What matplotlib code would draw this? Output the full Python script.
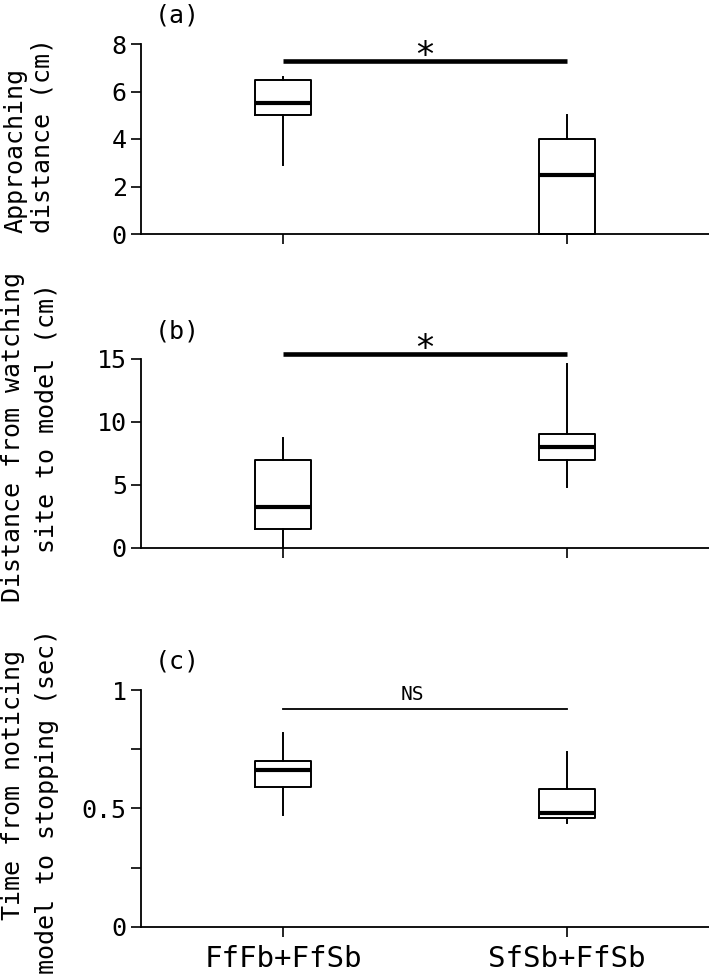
import matplotlib
matplotlib.use("Agg")
import matplotlib.pyplot as plt

plt.rcParams['font.family'] = ['DejaVu Sans Mono', 'DejaVu Sans']

W, H = 709, 975

groups = ["FfFb+FfSb", "SfSb+FfSb"]
positions = [0.5, 1.5]

# (a) approaching distance (cm)
a_whislo = [2.9, 0.0]
a_q1 = [5.0, 0.0]
a_med = [5.5, 2.5]
a_q3 = [6.5, 4.0]
a_whishi = [6.6, 5.0]

# (b) distance from watching site to model (cm)
b_whislo = [0.0, 4.8]
b_q1 = [1.5, 7.0]
b_med = [3.2, 8.0]
b_q3 = [7.0, 9.0]
b_whishi = [8.7, 14.6]

# (c) time from noticing model to stopping (sec)
c_whislo = [0.47, 0.44]
c_q1 = [0.59, 0.46]
c_med = [0.66, 0.48]
c_q3 = [0.70, 0.58]
c_whishi = [0.82, 0.74]

a_yticks = [0, 2, 4, 6, 8]
b_yticks = [0, 5, 10, 15]
c_yticks = [0, 0.25, 0.5, 0.75, 1]
c_yticklabels = ["0", "", "0.5", "", "1"]

sig_y = [7.3, 15.4, 0.92]
sig_text = ["*", "*", "NS"]
panel_tags = ["(a)", "(b)", "(c)"]


def px_rect(top, bottom):
    return [141 / W, 1 - bottom / H, (W - 141) / W, (bottom - top) / H]


def draw_box(ax, lo, q1, med, q3, hi):
    stats = []
    for i in range(len(med)):
        stats.append(dict(whislo=lo[i], q1=q1[i], med=med[i], q3=q3[i], whishi=hi[i]))
    arts = ax.bxp(stats, positions=positions, widths=0.2, showfliers=False,
                  showcaps=False, manage_ticks=False,
                  boxprops=dict(color='black', linewidth=1.4),
                  medianprops=dict(color='black', linewidth=3.0),
                  whiskerprops=dict(color='black', linewidth=1.4))
    for k in arts:
        for a in arts[k]:
            a.set_clip_on(False)


def style(ax, ylim, yticks, yticklabels=None):
    ax.set_xlim(0, 2)
    ax.set_ylim(*ylim)
    for s in ['top', 'right']:
        ax.spines[s].set_visible(False)
    for s in ['left', 'bottom']:
        ax.spines[s].set_linewidth(1.3)
    ax.set_yticks(yticks)
    if yticklabels is not None:
        ax.set_yticklabels(yticklabels)
    ax.set_xticks(positions)
    ax.tick_params(direction='out', length=7.2, width=1.2, labelsize=18, pad=3)
    ax.tick_params(axis='x', pad=6, labelsize=21)


fig = plt.figure(figsize=(W / 100, H / 100), dpi=100)

ax_a = fig.add_axes(px_rect(44, 234))
draw_box(ax_a, a_whislo, a_q1, a_med, a_q3, a_whishi)
style(ax_a, (0, 8), a_yticks)
ax_a.set_xticklabels([])

ax_b = fig.add_axes(px_rect(358.7, 547.7))
draw_box(ax_b, b_whislo, b_q1, b_med, b_q3, b_whishi)
style(ax_b, (0, 15), b_yticks)
ax_b.set_xticklabels([])

ax_c = fig.add_axes(px_rect(690, 926.7))
draw_box(ax_c, c_whislo, c_q1, c_med, c_q3, c_whishi)
style(ax_c, (0, 1), c_yticks, c_yticklabels)
ax_c.set_xticklabels(groups)

# significance bars
for ax, y, t in zip([ax_a, ax_b], sig_y[:2], sig_text[:2]):
    ax.plot(positions, [y, y], color='black', lw=3.3, solid_capstyle='butt', clip_on=False)
    ax.annotate(t, (1.0, y), xytext=(0, -4), textcoords='offset points',
                ha='center', va='baseline', fontsize=25, annotation_clip=False)
ax_c.plot(positions, [sig_y[2], sig_y[2]], color='black', lw=1.3, clip_on=False)
ax_c.text(0.954, 0.983, sig_text[2], ha='center', va='center', fontsize=14)

# panel tags
for tag, y in zip(panel_tags, [16, 332, 661]):
    fig.text(177 / W, 1 - y / H, tag, ha='center', va='center', fontsize=18)

# y labels, two lines each
fig.text(16 / W, 1 - 233 / H, "Approaching", rotation=90, ha='center', va='bottom', fontsize=18)
fig.text(43 / W, 1 - 233 / H, "distance (cm)", rotation=90, ha='center', va='bottom', fontsize=18)
fig.text(13 / W, 1 - 272 / H, "Distance from watching", rotation=90, ha='center', va='top', fontsize=18)
fig.text(47 / W, 1 - 283 / H, "site to model (cm)", rotation=90, ha='center', va='top', fontsize=18)
fig.text(13 / W, 1 - 785 / H, "Time from noticing", rotation=90, ha='center', va='center', fontsize=18)
fig.text(47 / W, 1 - 802 / H, "model to stopping (sec)", rotation=90, ha='center', va='center', fontsize=18)

fig.savefig("out.png", dpi=100)
